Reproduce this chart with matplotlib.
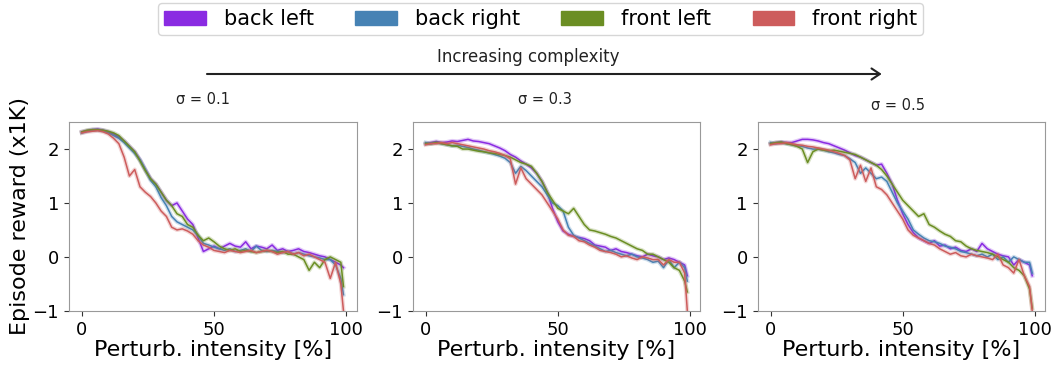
import matplotlib
matplotlib.use("Agg")
import matplotlib.pyplot as plt
from matplotlib.patches import Patch, FancyArrowPatch

# x positions (perturbation intensity, %)
intensity = list(range(0, 100, 2)) + [99]

labels = ["back left", "back right", "front left", "front right"]
colors = ["#8a2be2", "#4682b4", "#6b8e23", "#cd5c5c"]
sigmas = ["σ = 0.1", "σ = 0.3", "σ = 0.5"]

# sigma = 0.1
s1_back_left = [2.32, 2.34, 2.36, 2.37, 2.35, 2.32, 2.28, 2.22, 2.15, 2.05,
                1.95, 1.8, 1.62, 1.45, 1.35, 1.2, 1.05, 0.95, 1.0, 0.85,
                0.7, 0.6, 0.35, 0.1, 0.15, 0.2, 0.15, 0.2, 0.25, 0.2,
                0.18, 0.28, 0.15, 0.2, 0.18, 0.15, 0.22, 0.12, 0.15, 0.1,
                0.12, 0.15, 0.1, 0.08, 0.05, 0.02, 0.0, -0.05, -0.1, -0.15, -0.2]
s1_back_right = [2.3, 2.33, 2.35, 2.35, 2.34, 2.3, 2.25, 2.2, 2.12, 2.02,
                 1.92, 1.8, 1.62, 1.42, 1.3, 1.1, 0.95, 0.75, 0.65, 0.6,
                 0.55, 0.5, 0.4, 0.25, 0.22, 0.18, 0.15, 0.12, 0.15, 0.1,
                 0.12, 0.15, 0.1, 0.2, 0.12, 0.1, 0.12, 0.1, 0.08, 0.1,
                 0.05, 0.08, 0.05, 0.02, 0.0, -0.02, -0.05, -0.05, -0.15, -0.4, -0.7]
s1_front_left = [2.32, 2.35, 2.36, 2.36, 2.35, 2.33, 2.3, 2.25, 2.15, 2.05,
                 1.95, 1.78, 1.6, 1.45, 1.35, 1.2, 1.05, 0.95, 0.8, 0.75,
                 0.6, 0.55, 0.4, 0.3, 0.35, 0.28, 0.2, 0.15, 0.12, 0.15,
                 0.1, 0.12, 0.1, 0.08, 0.1, 0.12, 0.1, 0.08, 0.1, 0.05,
                 0.05, 0.0, -0.05, -0.25, -0.1, -0.2, -0.05, 0.0, -0.05, -0.1, -0.55]
s1_front_right = [2.3, 2.32, 2.33, 2.34, 2.32, 2.28, 2.2, 2.1, 1.85, 1.5,
                  1.62, 1.3, 1.2, 1.12, 1.0, 0.85, 0.75, 0.55, 0.5, 0.52,
                  0.48, 0.42, 0.3, 0.22, 0.18, 0.12, 0.1, 0.08, 0.12, 0.1,
                  0.08, 0.1, 0.12, 0.08, 0.1, 0.12, 0.1, 0.05, 0.08, 0.1,
                  0.05, 0.08, 0.02, 0.05, 0.0, -0.05, -0.1, -0.4, -0.1, -0.5, -1.0]

# sigma = 0.3
s3_back_left = [2.1, 2.12, 2.14, 2.12, 2.13, 2.15, 2.14, 2.16, 2.18, 2.15,
                2.14, 2.12, 2.1, 2.06, 2.02, 1.97, 1.9, 1.85, 1.78, 1.72,
                1.65, 1.55, 1.4, 1.2, 0.9, 0.65, 0.48, 0.42, 0.38, 0.36,
                0.34, 0.3, 0.22, 0.2, 0.18, 0.12, 0.15, 0.1, 0.08, 0.05,
                0.02, 0.0, 0.05, 0.02, 0.0, -0.05, -0.02, -0.05, -0.1, -0.15, -0.35]
s3_back_right = [2.12, 2.1, 2.12, 2.1, 2.08, 2.06, 2.07, 2.05, 2.03, 2.0,
                 1.98, 1.95, 1.93, 1.9, 1.87, 1.83, 1.75, 1.55, 1.68, 1.6,
                 1.5, 1.4, 1.3, 1.15, 1.0, 0.95, 0.85, 0.55, 0.4, 0.35,
                 0.3, 0.25, 0.2, 0.15, 0.1, 0.12, 0.08, 0.05, 0.02, 0.05,
                 0.0, -0.02, -0.05, -0.1, -0.08, -0.2, -0.05, -0.2, -0.1, -0.2, -0.45]
s3_front_left = [2.1, 2.1, 2.12, 2.1, 2.08, 2.06, 2.05, 2.0, 2.0, 1.98,
                 1.96, 1.95, 1.93, 1.92, 1.9, 1.88, 1.85, 1.8, 1.75, 1.72,
                 1.68, 1.55, 1.4, 1.2, 1.05, 0.9, 0.85, 0.8, 0.9, 0.75,
                 0.6, 0.5, 0.48, 0.45, 0.42, 0.38, 0.35, 0.3, 0.25, 0.2,
                 0.15, 0.12, 0.05, 0.05, 0.0, -0.05, -0.1, -0.2, -0.25, -0.45, -0.65]
s3_front_right = [2.08, 2.1, 2.1, 2.12, 2.1, 2.12, 2.1, 2.08, 2.06, 2.04,
                  2.02, 2.0, 1.97, 1.95, 1.92, 1.88, 1.82, 1.35, 1.65, 1.45,
                  1.35, 1.25, 1.15, 1.0, 0.85, 0.7, 0.5, 0.4, 0.38, 0.3,
                  0.28, 0.22, 0.18, 0.12, 0.1, 0.08, 0.05, 0.0, 0.02, -0.02,
                  -0.05, 0.0, -0.02, -0.05, -0.05, -0.15, -0.05, -0.1, -0.1, -0.3, -1.0]

# sigma = 0.5
s5_back_left = [2.1, 2.12, 2.13, 2.12, 2.12, 2.15, 2.18, 2.18, 2.17, 2.15,
                2.12, 2.1, 2.06, 2.02, 1.98, 1.93, 1.88, 1.85, 1.8, 1.75,
                1.7, 1.72, 1.55, 1.35, 1.05, 0.8, 0.6, 0.45, 0.35, 0.3,
                0.25, 0.3, 0.2, 0.22, 0.15, 0.18, 0.12, 0.1, 0.15, 0.1,
                0.25, 0.15, 0.1, 0.05, 0.02, 0.0, -0.15, -0.05, -0.1, -0.15, -0.35]
s5_back_right = [2.12, 2.1, 2.12, 2.1, 2.08, 2.06, 2.05, 2.02, 2.0, 2.0,
                 1.98, 1.95, 1.93, 1.9, 1.88, 1.82, 1.75, 1.55, 1.65, 1.55,
                 1.45, 1.48, 1.4, 1.2, 1.0, 0.85, 0.7, 0.5, 0.42, 0.35,
                 0.3, 0.28, 0.25, 0.2, 0.18, 0.15, 0.1, 0.08, 0.05, 0.02,
                 0.05, 0.0, 0.05, -0.05, 0.0, -0.1, 0.0, -0.05, -0.1, -0.1, -0.3]
s5_front_left = [2.1, 2.12, 2.13, 2.1, 2.08, 2.05, 2.0, 1.75, 1.95, 2.0,
                 1.98, 1.97, 1.98, 1.96, 1.94, 1.92, 1.9, 1.85, 1.8, 1.75,
                 1.7, 1.62, 1.5, 1.35, 1.2, 1.05, 0.95, 0.85, 0.75, 0.8,
                 0.6, 0.55, 0.48, 0.42, 0.38, 0.3, 0.28, 0.2, 0.15, 0.12,
                 0.1, 0.08, 0.05, 0.0, -0.05, -0.1, -0.2, -0.25, -0.35, -0.6, -0.95]
s5_front_right = [2.08, 2.1, 2.1, 2.12, 2.1, 2.08, 2.07, 2.05, 2.04, 2.02,
                  2.0, 1.98, 1.95, 1.92, 1.88, 1.8, 1.45, 1.7, 1.4, 1.65,
                  1.3, 1.25, 1.15, 1.0, 0.85, 0.7, 0.5, 0.4, 0.35, 0.3,
                  0.25, 0.22, 0.15, 0.1, 0.05, 0.08, 0.02, 0.0, 0.05, 0.02,
                  0.0, -0.02, -0.05, 0.05, -0.15, -0.2, -0.3, -0.05, -0.35, -0.55, -1.0]

panels = [
    [s1_back_left, s1_back_right, s1_front_left, s1_front_right],
    [s3_back_left, s3_back_right, s3_front_left, s3_front_right],
    [s5_back_left, s5_back_right, s5_front_left, s5_front_right],
]

fig = plt.figure(figsize=(10.58, 3.70), dpi=100)

lefts = [0.065, 0.390, 0.716]
title_pos = [(0.192, 0.730), (0.515, 0.730), (0.849, 0.716)]
for k, series in enumerate(panels):
    ax = fig.add_axes([lefts[k], 0.16, 0.272, 0.51])
    for vals, c in zip(series, colors):
        # faint band behind each line
        ax.plot(intensity, vals, color=c, lw=3.0, alpha=0.25)
        ax.plot(intensity, vals, color=c, lw=1.1)
    ax.set_ylim(-1, 2.5)
    ax.set_xticks([0, 50, 100])
    ax.set_yticks([-1, 0, 1, 2])
    ax.tick_params(labelsize=13, color="#333333")
    for sp in ax.spines.values():
        sp.set_color("#999999")
    ax.set_xlabel("Perturb. intensity [%]", fontsize=16, labelpad=1)
    if k == 0:
        ax.set_ylabel("Episode reward (x1K)", fontsize=16, labelpad=2)
    fig.text(title_pos[k][0], title_pos[k][1], sigmas[k], fontsize=10.5,
             ha="center", va="center", color="#222222")

# arrow showing increasing complexity
fig.add_artist(FancyArrowPatch(
    (0.193, 0.80), (0.836, 0.80), transform=fig.transFigure,
    arrowstyle="->,head_length=6,head_width=4", color="#222222", lw=1.5))
fig.text(0.499, 0.846, "Increasing complexity", fontsize=12, ha="center",
         va="center", color="#222222")

handles = [Patch(facecolor=c, edgecolor=c, label=l) for c, l in zip(colors, labels)]
fig.legend(handles=handles, loc="upper center", bbox_to_anchor=(0.511, 0.992),
           borderaxespad=0, ncol=4, fontsize=15, frameon=True,
           handlelength=2.0, handleheight=0.72, handletextpad=0.85,
           columnspacing=2.0, borderpad=0.3)

fig.savefig("out.png", dpi=100)
